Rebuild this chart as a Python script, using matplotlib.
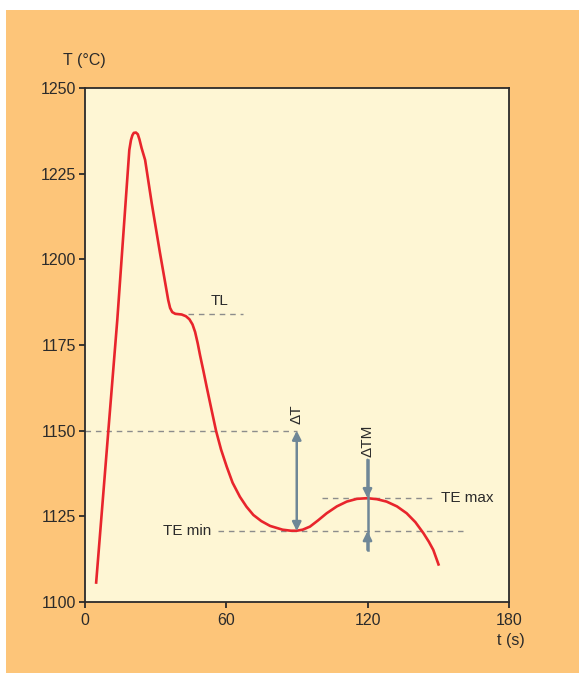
import numpy as np
import matplotlib.pyplot as plt
from matplotlib.patches import Rectangle

# cooling curve: time (s) and temperature (deg C)
t_s = [4.9, 10.1, 13.9, 17.5, 19.0, 19.7, 20.3, 20.9, 21.8, 22.6, 23.3, 24.2, 25.7, 28.5,
       32.0, 35.5, 36.3, 37.2, 38.5, 41.2, 43.0, 44.5, 45.8, 46.9, 48.0, 49.0, 50.4, 51.8,
       53.8, 55.8, 57.9, 60.3, 62.8, 65.9, 68.7, 71.6, 75.0, 78.7, 84.0, 87.5, 90.0, 92.5,
       95.6, 99.0, 102.7, 107.0, 111.2, 115.5, 119.9, 124.0, 128.1, 132.5, 136.6, 140.3,
       143.7, 146.0, 147.9, 150.3]
temp_c = [1105.3, 1149.9, 1182.3, 1217.3, 1231.9, 1234.8, 1236.2, 1236.9, 1237.0, 1236.5,
          1235.0, 1232.5, 1229.0, 1216.4, 1201.9, 1188.1, 1185.8, 1184.6, 1184.1, 1183.9,
          1183.4, 1182.5, 1181.0, 1178.8, 1175.5, 1172.0, 1167.5, 1162.8, 1156.3, 1149.9,
          1144.5, 1139.5, 1134.8, 1130.7, 1127.8, 1125.4, 1123.6, 1122.2, 1121.1, 1120.8,
          1120.8, 1121.1, 1122.0, 1123.8, 1125.9, 1127.9, 1129.3, 1130.1, 1130.3, 1130.0,
          1129.3, 1127.9, 1125.9, 1123.3, 1120.1, 1117.6, 1115.2, 1110.6]

# reference levels
TL = 1184.0
T_REF = 1150.0
TE_MIN = 1120.7
TE_MAX = 1130.3
t_emin = 90.0
t_emax = 120.0

x_ticks = [0, 60, 120, 180]
y_ticks = [1100, 1125, 1150, 1175, 1200, 1225, 1250]

orange = '#fdc579'
cream = '#fef6d4'
red = '#e8252c'
grey = '#8c8c8c'
steel = '#6f8797'
ink = '#2b2b2b'

plt.rcParams['font.family'] = ['Liberation Sans', 'DejaVu Sans']

fig = plt.figure(figsize=(5.79, 6.73), dpi=100, facecolor='white')
fig.patches.append(Rectangle((6/579, 0), 1 - 6/579, 1 - 10/673, transform=fig.transFigure,
                             facecolor=orange, edgecolor='none', zorder=-10))

ax = fig.add_axes([84.5/579, 1 - 602/673, (509 - 84.5)/579, (602 - 88)/673])
ax.set_facecolor(cream)
ax.set_xlim(0, 180)
ax.set_ylim(1100, 1250)
ax.set_xticks(x_ticks)
ax.set_yticks(y_ticks)
for s in ax.spines.values():
    s.set_color(ink)
    s.set_linewidth(1.3)
ax.tick_params(colors=ink, labelsize=11.5, length=4, width=1.3)
ax.tick_params(axis='y', pad=2)
ax.tick_params(axis='x', pad=4)

# dashed guide lines
dash = dict(color=grey, lw=1, dashes=(4, 3.5), zorder=2)
ax.plot([43.9, 67.2], [TL, TL], **dash)
ax.plot([0, t_emin], [T_REF, T_REF], **dash)
ax.plot([100.6, 147.9], [TE_MAX, TE_MAX], **dash)
ax.plot([56.7, 160.6], [TE_MIN, TE_MIN], **dash)

# the curve
ax.plot(t_s, temp_c, color=red, lw=1.9, solid_joinstyle='round', solid_capstyle='butt', zorder=3)

# delta T arrow
ax.annotate('', xy=(t_emin, T_REF), xytext=(t_emin, TE_MIN),
            arrowprops=dict(arrowstyle='<|-|>', color=steel, lw=1.8, mutation_scale=13,
                            shrinkA=0, shrinkB=0), zorder=4)
# delta TM arrows
ax.plot([t_emax, t_emax], [1141.5, 1115.2], color=steel, lw=1.8, zorder=4)
ax.annotate('', xy=(t_emax, TE_MAX), xytext=(t_emax, 1141.5),
            arrowprops=dict(arrowstyle='-|>', color=steel, lw=1.8, mutation_scale=13,
                            shrinkA=0, shrinkB=0), zorder=4)
ax.annotate('', xy=(t_emax, TE_MIN), xytext=(t_emax, 1115.2),
            arrowprops=dict(arrowstyle='-|>', color=steel, lw=1.8, mutation_scale=13,
                            shrinkA=0, shrinkB=0), zorder=4)

# labels
lab = dict(color=ink, fontsize=11)
ax.text(57.2, 1187.8, 'TL', ha='center', va='center', **lab)
ax.text(t_emin, 1152, 'ΔT', rotation=90, ha='center', va='bottom', **lab)
ax.text(t_emax, 1142.4, 'ΔTM', rotation=90, ha='center', va='bottom', **lab)
ax.text(151.1, TE_MAX, 'TE max', ha='left', va='center', **lab)
ax.text(53.9, TE_MIN, 'TE min', ha='right', va='center', **lab)

fig.text(84.5/579, 1 - 60.5/673, 'T (°C)', ha='center', va='center', color=ink, fontsize=11.5)
fig.text(525/579, 1 - 641/673, 't (s)', ha='right', va='center', color=ink, fontsize=11.5)

fig.savefig('out.png', dpi=100, facecolor='white')
